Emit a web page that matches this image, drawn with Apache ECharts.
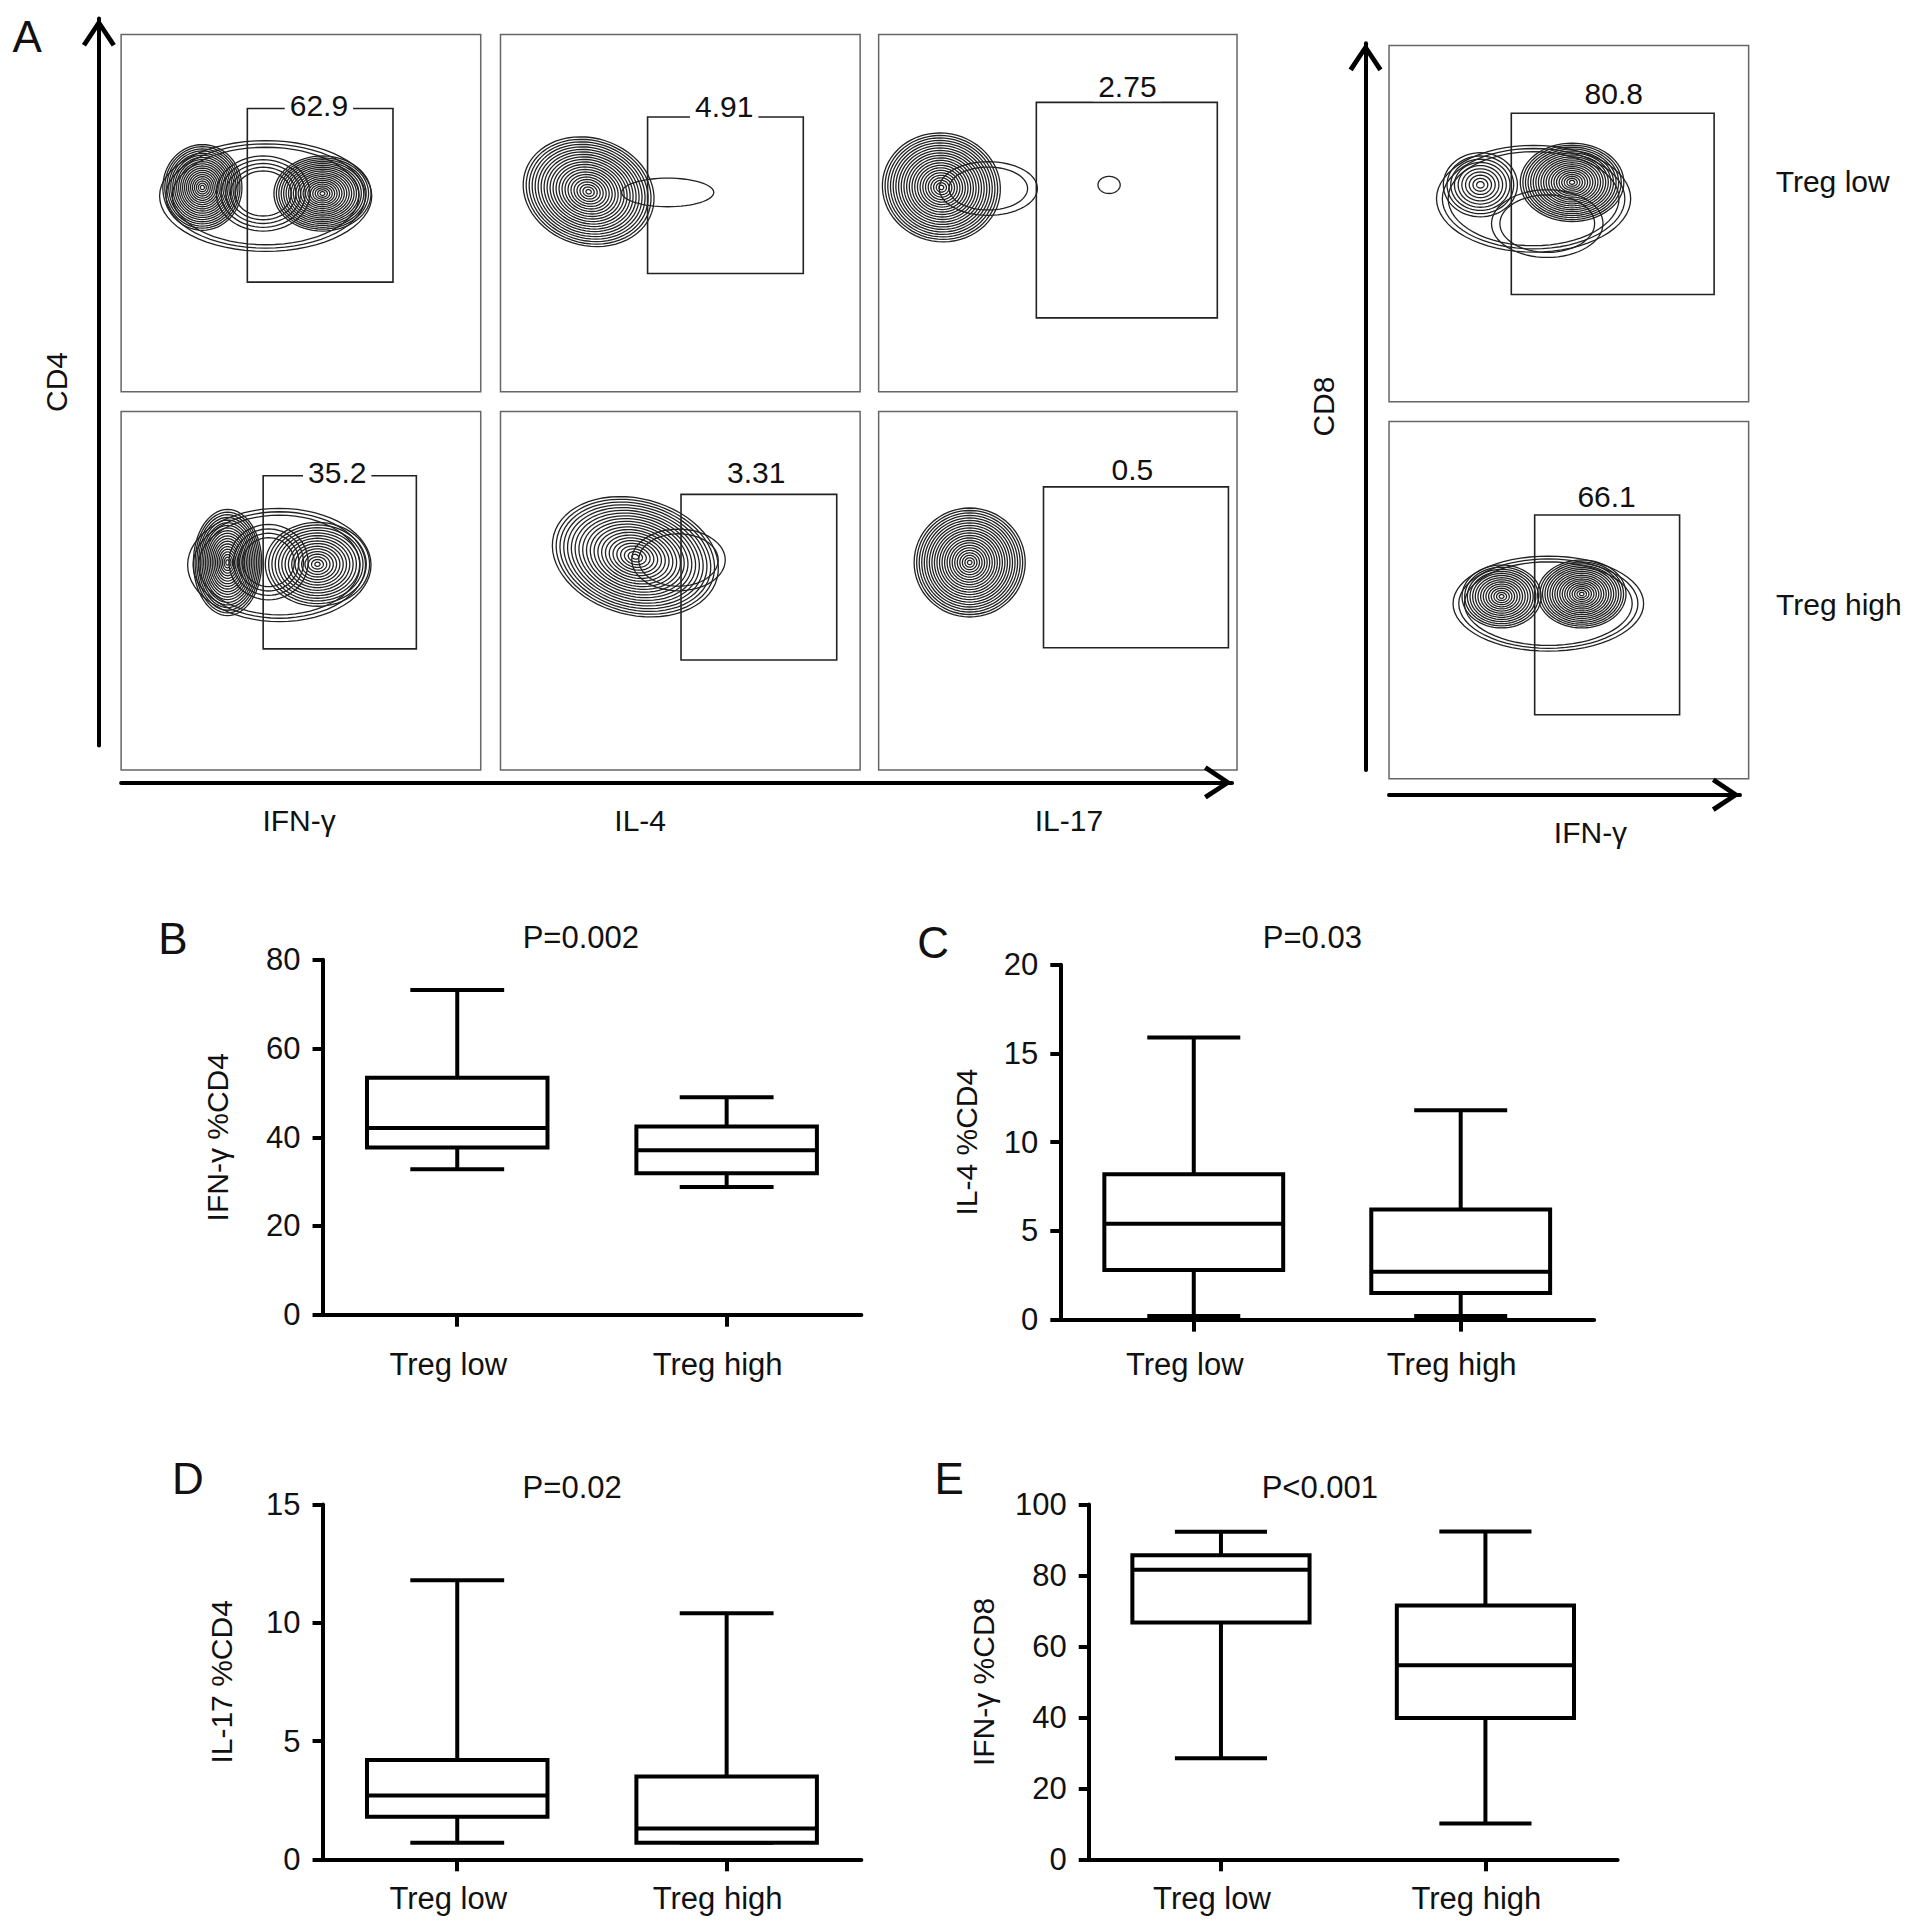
<!DOCTYPE html>
<html><head><meta charset="utf-8">
<script src="https://cdn.jsdelivr.net/npm/echarts@6/dist/echarts.min.js"></script>
<style>html,body{margin:0;padding:0;background:#fff}#c{width:1913px;height:1932px}</style>
</head><body><div id="c"></div>
<script>
// ================= DATA =================
// Panel A: gate percentages (order: CD4 Treg low IFN-g, IL-4, IL-17, CD4 Treg high IFN-g, IL-4, IL-17, CD8 Treg low, CD8 Treg high)
const gatePct = ['62.9', '4.91', '2.75', '35.2', '3.31', '0.5', '80.8', '66.1'];
// gate bounds in plot units (0-100): [xLeft, xRight, yBottom, yTop, labelX, labelY]
const gates = [
  [35.1, 75.6, 30.7, 79.3, 55.0, 80.0],
  [40.9, 84.2, 33.1, 76.9, 62.2, 79.8],
  [44.0, 94.5, 20.7, 81.0, 69.4, 85.5],
  [39.5, 82.1, 33.8, 82.1, 60.1, 83.1],
  [50.2, 93.5, 30.7, 76.9, 71.1, 83.1],
  [46.0, 97.6, 34.1, 79.0, 70.8, 83.8],
  [34.0, 90.4, 30.1, 81.0, 62.5, 86.5],
  [40.5, 80.8, 17.9, 73.8, 60.5, 79.0]
];
// contour populations: [panel, centerX, centerY, radiusX, radiusY, levels, innerScale, tiltDeg]
const contours = [
  [0, 40.2, 54.8, 29.5, 15.5, 3, 0.88, 0],
  [0, 39.5, 55.5, 13.0, 10.5, 5, 0.6, 0],
  [0, 22.6, 57.2, 11.0, 12.0, 20, 0.05, 0],
  [0, 56.0, 55.5, 13.5, 10.5, 20, 0.05, 0],
  [1, 24.5, 56.0, 18.5, 15.0, 22, 0.04, -18],
  [1, 46.5, 55.8, 12.8, 4.0, 1, 1, 0],
  [2, 17.5, 57.2, 16.5, 15.2, 22, 0.04, -10],
  [2, 30.6, 56.9, 13.7, 7.5, 2, 0.8, 0],
  [2, 64.3, 57.9, 3.1, 2.4, 1, 1, 0],
  [3, 44.0, 57.2, 25.5, 15.8, 3, 0.88, 0],
  [3, 41.0, 58.0, 11.0, 10.5, 4, 0.65, 0],
  [3, 29.6, 57.9, 9.5, 14.8, 20, 0.05, 0],
  [3, 54.6, 57.4, 14.5, 11.7, 16, 0.05, 0],
  [4, 37.5, 59.5, 23.5, 16.2, 22, 0.04, -15],
  [4, 49.5, 58.6, 13.0, 8.6, 2, 0.85, 0],
  [5, 25.4, 57.9, 15.5, 15.2, 22, 0.04, 0],
  [6, 40.2, 57.0, 27.0, 15.0, 3, 0.88, 0],
  [6, 25.4, 60.9, 10.3, 9.0, 10, 0.1, 0],
  [6, 50.9, 61.6, 14.4, 11.0, 20, 0.05, 0],
  [6, 44.0, 50.0, 15.5, 9.5, 2, 0.85, 0],
  [7, 44.3, 49.0, 26.5, 13.3, 3, 0.88, 0],
  [7, 31.3, 51.0, 11.0, 8.8, 15, 0.06, 0],
  [7, 53.6, 51.7, 12.3, 9.5, 18, 0.05, 0]
];
const flowXLabels = ['IFN-\u03b3', 'IL-4', 'IL-17'];
const rowLabels = ['Treg low', 'Treg high'];

// Panels B-E: box plots [min, Q1, median, Q3, max]
const boxCategories = ['Treg low', 'Treg high'];
const ifngCD4 = [[32.8, 37.7, 42.1, 53.4, 73.2], [28.8, 31.9, 37.1, 42.4, 49.0]];
const il4CD4 = [[0.2, 2.8, 5.4, 8.2, 15.9], [0.2, 1.5, 2.7, 6.2, 11.8]];
const il17CD4 = [[0.7, 1.8, 2.7, 4.2, 11.8], [0.7, 0.7, 1.3, 3.5, 10.4]];
const ifngCD8 = [[28.5, 66.7, 81.6, 85.7, 92.3], [10.1, 39.8, 54.7, 71.5, 92.4]];
const ticksB = [0, 20, 40, 60, 80];
const ticksC = [0, 5, 10, 15, 20];
const ticksD = [0, 5, 10, 15];
const ticksE = [0, 20, 40, 60, 80, 100];
const yTitles = ['IFN-\u03b3 %CD4', 'IL-4 %CD4', 'IL-17 %CD4', 'IFN-\u03b3 %CD8'];
const pValues = ['P=0.002', 'P=0.03', 'P=0.02', 'P<0.001'];
const panelLetters = ['A', 'B', 'C', 'D', 'E'];

// ================= LAYOUT =================
const SX = 1913 / 1548, SY = 1932 / 1568;
const px = v => v * SX, py = v => v * SY;
const FONT = "'Liberation Sans', Arial, Helvetica, sans-serif";

const panelBoxes = [[98, 28, 291, 290], [405, 28, 291, 290], [711, 28, 290, 290],
                    [98, 334, 291, 291], [405, 334, 291, 291], [711, 334, 290, 291],
                    [1124, 37, 291, 289], [1124, 342, 291, 290]];
const boxGrids = [[261, 779, 436, 288], [858, 783, 432, 288], [261, 1221, 436, 288], [881, 1221, 428, 288]];
const boxSets = [
  {vals: ifngCD4, ticks: ticksB, gap: 90, lm: 34},
  {vals: il4CD4, ticks: ticksC, gap: 79, lm: 29},
  {vals: il17CD4, ticks: ticksD, gap: 86, lm: 24},
  {vals: ifngCD8, ticks: ticksE, gap: 90, lm: 24}
];
// arrow axes: [left, top, width, height, orient, name, nameGap]
const arrowGrids = [[80, 15, 8, 590, 'y', 'CD4', 27], [98, 635, 899, 8, 'x', '', 0],
                    [1105, 35, 8, 590, 'y', 'CD8', 27], [1124, 645, 284, 8, 'x', '', 0]];
const CHEVRON = 'path://M10,0 L10,0 M10,36 L10,36 M10,18 L20,33 L17.6,34.6 L10,23 L2.4,34.6 L0,33 Z';

const grid = [], xAxis = [], yAxis = [], series = [];

function contourItem(params, api) {
  const cx = api.value(1), cy = api.value(2), rx = api.value(3), ry = api.value(4);
  const n = api.value(5), inner = api.value(6), rot = api.value(7) * Math.PI / 180;
  const children = [];
  for (let k = 0; k < n; k++) {
    const s = n === 1 ? 1 : 1 - (1 - inner) * k / (n - 1);
    const pts = [];
    for (let a = 0; a < 64; a++) {
      const t = a / 64 * 2 * Math.PI;
      const ex = rx * s * Math.cos(t), ey = ry * s * Math.sin(t);
      pts.push(api.coord([cx + ex * Math.cos(rot) - ey * Math.sin(rot), cy + ex * Math.sin(rot) + ey * Math.cos(rot)]));
    }
    children.push({type: 'polygon', shape: {points: pts}, style: {fill: 'none', stroke: '#222', lineWidth: 1.3}});
  }
  return {type: 'group', children};
}

function gateItemFor(label) {
  return function (params, api) {
    const p1 = api.coord([api.value(0), api.value(3)]);
    const p2 = api.coord([api.value(1), api.value(2)]);
    const lp = api.coord([api.value(4), api.value(5)]);
    return {type: 'group', children: [
      {type: 'rect', shape: {x: p1[0], y: p1[1], width: p2[0] - p1[0], height: p2[1] - p1[1]},
       style: {fill: 'none', stroke: '#222', lineWidth: 1.6}},
      {type: 'text', x: lp[0], y: lp[1], z2: 10,
       style: {text: label, fill: '#111', fontSize: 30, fontFamily: FONT, align: 'center', verticalAlign: 'middle',
               backgroundColor: '#fff', padding: [0, 5]}}
    ]};
  };
}

function boxItem(params, api) {
  const cat = api.value(0);
  const xc = api.coord([cat, 0])[0];
  const band = api.size([1, 0])[0];
  const hw = band * 0.335, cw = hw * 0.52;
  const y = [1, 2, 3, 4, 5].map(i => api.coord([cat, api.value(i)])[1]);
  const ls = {stroke: '#000', lineWidth: 4, fill: 'none'};
  return {type: 'group', children: [
    {type: 'line', shape: {x1: xc, y1: y[4], x2: xc, y2: y[3]}, style: ls},
    {type: 'line', shape: {x1: xc, y1: y[1], x2: xc, y2: y[0]}, style: ls},
    {type: 'line', shape: {x1: xc - cw, y1: y[4], x2: xc + cw, y2: y[4]}, style: ls},
    {type: 'line', shape: {x1: xc - cw, y1: y[0], x2: xc + cw, y2: y[0]}, style: ls},
    {type: 'rect', shape: {x: xc - hw, y: y[3], width: 2 * hw, height: y[1] - y[3]}, style: {stroke: '#000', lineWidth: 4, fill: '#fff'}},
    {type: 'line', shape: {x1: xc - hw, y1: y[2], x2: xc + hw, y2: y[2]}, style: ls}
  ]};
}

// Panel A plots
panelBoxes.forEach((b, i) => {
  grid.push({left: px(b[0]), top: py(b[1]), width: px(b[2]), height: py(b[3]), show: true,
             borderColor: '#666', borderWidth: 1.5, backgroundColor: 'transparent', outerBoundsMode: 'none', containLabel: false});
  xAxis.push({type: 'value', gridIndex: i, min: 0, max: 100, show: false});
  yAxis.push({type: 'value', gridIndex: i, min: 0, max: 100, show: false});
  series.push({type: 'custom', xAxisIndex: i, yAxisIndex: i, renderItem: contourItem, silent: true,
               encode: {x: 1, y: 2}, data: contours.filter(c => c[0] === i)});
  series.push({type: 'custom', xAxisIndex: i, yAxisIndex: i, renderItem: gateItemFor(gatePct[i]), silent: true, z: 3,
               encode: {x: [0, 1], y: [2, 3]}, data: [gates[i]]});
});

// Box plots
boxGrids.forEach((b, j) => {
  const gi = grid.length;
  const set = boxSets[j];
  grid.push({left: px(b[0]), top: py(b[1]), width: px(b[2]), height: py(b[3]), outerBoundsMode: 'none', containLabel: false});
  xAxis.push({type: 'category', gridIndex: gi, data: boxCategories, boundaryGap: true,
    axisLine: {show: true, onZero: false, lineStyle: {color: '#000', width: 4}},
    axisTick: {show: true, alignWithLabel: true, length: 12, lineStyle: {color: '#000', width: 4}},
    axisLabel: {show: true, margin: set.lm, fontSize: 31, color: '#111', fontFamily: FONT, padding: [0, 18, 0, 0]},
    splitLine: {show: false}});
  yAxis.push({type: 'value', gridIndex: gi, min: set.ticks[0], max: set.ticks[set.ticks.length - 1],
    interval: set.ticks[1] - set.ticks[0],
    axisLine: {show: true, onZero: false, lineStyle: {color: '#000', width: 4}},
    axisTick: {show: true, length: 10, lineStyle: {color: '#000', width: 4}},
    axisLabel: {show: true, margin: 22, fontSize: 31, color: '#111', fontFamily: FONT},
    splitLine: {show: false},
    name: yTitles[j], nameLocation: 'middle', nameGap: set.gap,
    nameTextStyle: {fontSize: 30, color: '#111', fontFamily: FONT}});
  series.push({type: 'custom', xAxisIndex: gi, yAxisIndex: gi, renderItem: boxItem, silent: true, z: 5,
               encode: {x: 0, y: [1, 5]}, data: set.vals.map((v, i) => [i].concat(v))});
});

// Arrow axes of panel A
arrowGrids.forEach(a => {
  const gi = grid.length;
  grid.push({left: px(a[0]), top: py(a[1]), width: px(a[2]), height: py(a[3]), outerBoundsMode: 'none', containLabel: false});
  const arrowAxis = {gridIndex: gi, type: 'value', min: 0, max: 1,
    axisLine: {show: true, onZero: false, symbol: ['none', CHEVRON], symbolSize: [34, 61],
               lineStyle: {color: '#000', width: 4}},
    axisTick: {show: false}, axisLabel: {show: false}, splitLine: {show: false}};
  const hidden = {gridIndex: gi, type: 'value', min: 0, max: 1, show: false};
  if (a[4] === 'y') {
    xAxis.push(hidden);
    yAxis.push(Object.assign({position: 'left', name: a[5], nameLocation: 'middle', nameGap: a[6],
      nameTextStyle: {fontSize: 30, color: '#111', fontFamily: FONT}}, arrowAxis));
  } else {
    xAxis.push(Object.assign({position: 'top'}, arrowAxis));
    yAxis.push(hidden);
  }
});

// Text labels
function txt(t, x, y, size) {
  return {type: 'text', x: px(x), y: py(y), silent: true,
          style: {text: t, fontSize: size, fontFamily: FONT, fill: '#111', align: 'center', verticalAlign: 'middle'}};
}
const graphic = [
  txt(panelLetters[0], 22, 30, 44),
  txt(flowXLabels[0], 242, 666, 30), txt(flowXLabels[1], 518, 666, 30), txt(flowXLabels[2], 865, 666, 30),
  txt(flowXLabels[0], 1287, 676, 30),
  txt(rowLabels[0], 1483, 147, 30), txt(rowLabels[1], 1488, 491, 30),
  txt(panelLetters[1], 140, 762, 44), txt(panelLetters[2], 755, 765, 44),
  txt(panelLetters[3], 152, 1200, 44), txt(panelLetters[4], 768, 1200, 44),
  txt(pValues[0], 470, 761, 31), txt(pValues[1], 1062, 761, 31),
  txt(pValues[2], 463, 1207, 31), txt(pValues[3], 1068, 1207, 31)
];

const chart = echarts.init(document.getElementById('c'), null, {renderer: 'svg'});
chart.setOption({
  animation: false,
  backgroundColor: '#fff',
  textStyle: {fontFamily: FONT},
  grid, xAxis, yAxis, series, graphic
});
</script></body></html>
